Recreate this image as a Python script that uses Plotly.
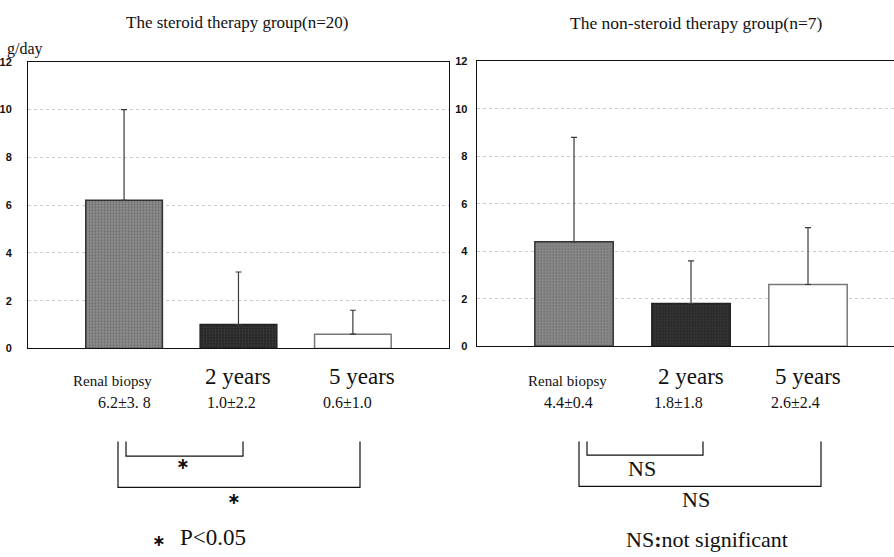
import plotly.graph_objects as go

# Urinary protein (g/day) at renal biopsy, 2 years and 5 years
categories = ["Renal biopsy", "2 years", "5 years"]

steroid_mean = [6.2, 1.0, 0.6]
steroid_sd = [3.8, 2.2, 1.0]
steroid_text = ["6.2\u00b13. 8", "1.0\u00b12.2", "0.6\u00b11.0"]

nonsteroid_mean = [4.4, 1.8, 2.6]
nonsteroid_sd = [4.4, 1.8, 2.4]
nonsteroid_text = ["4.4\u00b10.4", "1.8\u00b11.8", "2.6\u00b12.4"]

y_ticks = [0, 2, 4, 6, 8, 10, 12]

SERIF = "Liberation Serif, Times New Roman, serif"
SANS = "Liberation Sans, Arial, sans-serif"
STAR_FONT = "DejaVu Sans, sans-serif"
INK = "#111111"

bar_fill = ["#8c8c8c", "#262626", "#ffffff"]
bar_fg = ["#4a4a4a", "#555555", "#ffffff"]
bar_line = ["#333333", "#222222", "#777777"]

fig = go.Figure()


def add_group(mean, sd, xa, ya):
    for i, cat in enumerate(categories):
        fig.add_trace(go.Bar(
            x=[cat], y=[mean[i]], xaxis=xa, yaxis=ya, width=0.67,
            marker=dict(
                color=bar_fill[i],
                line=dict(color=bar_line[i], width=1.5),
                pattern=dict(shape="." if i < 2 else "", fgcolor=bar_fg[i],
                             bgcolor=bar_fill[i], size=3, solidity=0.35,
                             fillmode="overlay"),
            ),
            error_y=dict(type="data", symmetric=False, array=[sd[i]],
                         arrayminus=[0], color="#3a3a3a", thickness=1.2, width=3),
            showlegend=False, hoverinfo="skip",
        ))


add_group(steroid_mean, steroid_sd, "x", "y")
add_group(nonsteroid_mean, nonsteroid_sd, "x2", "y2")

axis_common = dict(showgrid=False, zeroline=False, showticklabels=False,
                   type="category", categoryorder="array", categoryarray=categories)
yaxis_common = dict(range=[0, 12], tickvals=y_ticks,
                    ticktext=["<b>%d</b>" % v for v in y_ticks],
                    showgrid=True, gridcolor="#cccccc", griddash="dot", gridwidth=1,
                    zeroline=False, ticks="",
                    tickfont=dict(family=SANS, size=11, color=INK))

fig.update_layout(
    width=894, height=557,
    margin=dict(l=0, r=0, t=0, b=0),
    paper_bgcolor="white", plot_bgcolor="white",
    xaxis=dict(**axis_common, domain=[0.0313, 0.5022], range=[-0.84, 2.84],
               showline=True, linecolor=INK, linewidth=1, mirror=True),
    yaxis=dict(**yaxis_common, domain=[0.3716, 0.8977], anchor="x",
               showline=True, linecolor=INK, linewidth=1, mirror=True,
               ticklabelstandoff=13),
    xaxis2=dict(**axis_common, domain=[0.5332, 1.0], range=[-0.832, 2.735],
                anchor="y2", showline=True, linecolor=INK, linewidth=1,
                mirror="allticks"),
    yaxis2=dict(**yaxis_common, domain=[0.3758, 0.8982], anchor="x2",
                showline=True, linecolor=INK, linewidth=1,
                ticklabelstandoff=6),
)


def px_ann(text, x, y, size=14, family=SERIF):
    return dict(text=text, x=x / 894, y=1 - y / 557, xref="paper", yref="paper",
                showarrow=False, xanchor="center", yanchor="middle",
                font=dict(family=family, size=size, color=INK))


def cat_ann(text, xref, xi, y, size):
    return dict(text=text, x=xi, y=1 - y / 557, xref=xref, yref="paper",
                showarrow=False, xanchor="center", yanchor="middle",
                font=dict(family=SERIF, size=size, color=INK))


annotations = [
    px_ann("The steroid therapy group(n=20)", 237, 17, 17),
    px_ann("The non-steroid therapy group(n=7)", 696, 17, 17.5),
    px_ann("g/day", 25, 44, 16),
]

# Category labels and mean ± SD under each panel
label_sizes = [15, 23, 23]
for xref, texts, offs_cat, offs_val in (
        ("x", steroid_text, [-0.1, 0.0, 0.08], [0.0, -0.06, -0.05]),
        ("x2", nonsteroid_text, [-0.06, 0.0, 0.0], [-0.05, -0.11, -0.11])):
    for i, cat in enumerate(categories):
        annotations.append(cat_ann(cat, xref, i + offs_cat[i],
                                   383 if i == 0 else 379, label_sizes[i]))
        annotations.append(cat_ann(texts[i], xref, i + offs_val[i], 405, 16))

# Significance marks
annotations.append(px_ann("<b>\u2217</b>", 182, 468, 16, STAR_FONT))
annotations.append(px_ann("<b>\u2217</b>", 233, 503, 16, STAR_FONT))
annotations.append(px_ann("<b>\u2217</b>", 158, 546, 16, STAR_FONT))
annotations.append(px_ann("P<0.05", 213, 543, 23))
annotations.append(px_ann("NS", 642, 473, 22))
annotations.append(px_ann("NS", 696, 504, 22))
annotations.append(px_ann("NS<b>:</b>not significant", 707, 545, 22))

fig.update_layout(annotations=annotations)

# Comparison brackets (pixel positions converted to paper fractions)
brackets = [
    (126, 243, 445, 460),
    (118, 360, 445, 492),
    (587, 703, 445, 459),
    (579, 821, 445, 491),
]
shapes = []
for x0, x1, ytop, ybot in brackets:
    path = "M {a},{t} L {a},{b} L {c},{b} L {c},{t}".format(
        a=x0 / 894, c=x1 / 894, t=1 - ytop / 557, b=1 - ybot / 557)
    shapes.append(dict(type="path", path=path, xref="paper", yref="paper",
                       line=dict(color=INK, width=1.2)))
fig.update_layout(shapes=shapes)

fig.write_html("out.html")
